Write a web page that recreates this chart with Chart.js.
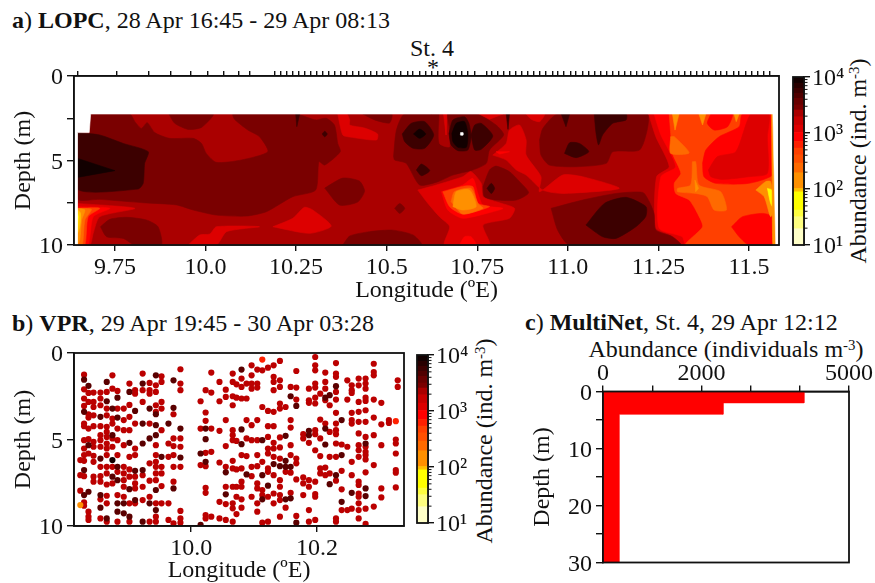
<!DOCTYPE html>
<html>
<head>
<meta charset="utf-8">
<title>LOPC, VPR and MultiNet abundance</title>
<script src="https://cdn.jsdelivr.net/npm/chart.js@4"></script>
<style>
  body { margin: 0; background: #fff; width: 875px; height: 583px; overflow: hidden; }
  canvas { position: absolute; left: 0; top: 0; }
  .txt { position: absolute; font: 24px "Liberation Serif", serif; color: #111; white-space: nowrap; line-height: 1; }
  .rot { transform: translate(-50%, -50%) rotate(-90deg); }
  .mid { transform: translate(-50%, -50%); }
  sup { font-size: .62em; line-height: 0; vertical-align: baseline; position: relative; top: -.45em; }
</style>
</head>
<body>
<div class="txt" style="left:12px;top:8px"><b>a</b>) <b>LOPC</b>, 28 Apr 16:45 - 29 Apr 08:13</div>
<div class="txt mid" style="left:432px;top:48px">St. 4</div>
<div class="txt mid" style="left:433px;top:67px">*</div>
<div class="txt rot" style="left:858px;top:161px">Abundance (ind. m<sup>-3</sup>)</div>
<div class="txt" style="left:12px;top:311px"><b>b</b>) <b>VPR</b>, 29 Apr 19:45 - 30 Apr 03:28</div>
<div class="txt rot" style="left:484px;top:441px">Abundance (ind. m<sup>-3</sup>)</div>
<div class="txt" style="left:525px;top:310px"><b>c</b>) <b>MultiNet</b>, St. 4, 29 Apr 12:12</div>
<div class="txt mid" style="left:726px;top:349px">Abundance (individuals m<sup>-3</sup>)</div>

<script>
// Colour bands of the abundance scale (ind. m-3)
const bandEdges = [10, 19.5, 32, 42, 89, 102, 195, 290, 407, 537, 708, 1023, 1380, 1950, 2570, 3160, 4170, 5130, 6310, 7760, 10000];
const bandColors = ["#ffffc8", "#ffff80", "#ffff40", "#ffff00", "#ffc000", "#ff9000", "#ff6a00", "#ff5000", "#ff4000", "#ff2000",
  "#ff0000", "#dd0000", "#c80000", "#aa0000", "#7a0000", "#680000", "#500000", "#3c0000", "#280000", "#120000"];
const cbarMajor = [10, 100, 1000, 10000];
const cbarLabels = ["10¹", "10²", "10³", "10⁴"];
const cbarMinor = [20, 30, 40, 50, 60, 70, 80, 90, 200, 300, 400, 500, 600, 700, 800, 900, 2000, 3000, 4000, 5000, 6000, 7000, 8000, 9000];

// Panel a, axes
const lonTicks = [9.75, 10, 10.25, 10.5, 10.75, 11, 11.25, 11.5];
const lonLabels = ["9.75", "10.0", "10.25", "10.5", "10.75", "11.0", "11.25", "11.5"];
const depthTicksA = [0, 2.5, 5, 7.5, 10];
const depthLabelsA = ["0", "", "5", "", "10"];
const sampleLon = [9.646, 9.756, 9.842, 9.905, 9.96, 10.007, 10.051, 10.092, 10.122,
  10.19, 10.207, 10.223, 10.24, 10.257, 10.273, 10.29, 10.307, 10.323, 10.34, 10.357, 10.373, 10.39, 10.407, 10.423,
  10.44, 10.457, 10.473, 10.49, 10.507, 10.523, 10.54, 10.557, 10.573, 10.59, 10.607, 10.623, 10.64, 10.657, 10.673,
  10.69, 10.707, 10.723, 10.742, 10.776, 10.79, 10.807, 10.823, 10.84, 10.857, 10.873, 10.89, 10.907, 10.923, 10.94,
  10.957, 10.973, 10.99, 11.007, 11.023, 11.04, 11.057, 11.073, 11.09, 11.107, 11.123, 11.14, 11.157, 11.173, 11.19,
  11.207, 11.223, 11.24, 11.257, 11.273, 11.29, 11.307, 11.323, 11.34, 11.357, 11.373, 11.39, 11.407, 11.423, 11.44,
  11.457, 11.473, 11.49, 11.507, 11.523, 11.54, 11.556];

// Panel a, filled contours: [abundance, [lon, depth, lon, depth, ...]], painted in this order
const contourShapes = [
  [2200, [9.646,3.35, 9.679,3.35, 9.683,2.25, 11.566,2.25, 11.574,10, 9.646,10]],
  [1200, [11.223,2.25, 11.566,2.25, 11.574,10, 11.312,10, 11.284,9.41, 11.243,9, 11.245,5.96, 11.28,5.37, 11.243,3.59]],
  [850, [11.238,2.25, 11.566,2.25, 11.574,10, 11.326,10, 11.316,9.51, 11.252,9, 11.257,5.96, 11.298,5.37, 11.257,3.49]],
  [450, [11.28,2.25, 11.566,2.25, 11.574,10, 11.326,10, 11.372,8.92, 11.358,8.13, 11.335,7.34, 11.298,6.95, 11.294,6.35, 11.312,5.76, 11.289,4.58, 11.284,3.4]],
  [850, [11.372,5.17, 11.381,4.38, 11.418,3.59, 11.473,3, 11.482,2.25, 11.566,2.25, 11.569,5.76, 11.5,6.35, 11.408,6.35, 11.376,5.96]],
  [850, [11.395,2.25, 11.454,2.25, 11.441,3, 11.404,3.2, 11.385,2.8]],
  [1200, [11.388,5.56, 11.413,4.77, 11.464,4.48, 11.505,2.25, 11.555,2.25, 11.551,3.59, 11.551,5.76, 11.5,5.96, 11.427,6.12, 11.395,5.96]],
  [850, [11.452,8.92, 11.482,8.33, 11.537,8.13, 11.565,8.33, 11.572,10, 11.5,10, 11.473,9.51]],
  [150, [11.289,2.25, 11.307,2.25, 11.296,3.2]],
  [150, [11.362,2.25, 11.381,2.25, 11.372,2.9]],
  [150, [11.459,2.25, 11.473,2.25, 11.465,2.7]],
  [240, [11.284,3.59, 11.294,3.59, 11.335,4.55, 11.284,4.58]],
  [240, [11.344,5.07, 11.353,5.07, 11.362,6.45, 11.422,6.85, 11.438,7.93, 11.404,7.93, 11.385,7.14, 11.353,6.95, 11.303,6.85, 11.303,6.65, 11.339,6.45]],
  [150, [11.351,6.16, 11.361,6.65, 11.353,6.85]],
  [150, [11.519,6.75, 11.546,6.25, 11.56,6.25, 11.569,7.83, 11.56,8.33, 11.542,7.14]],
  [60, [11.551,6.65, 11.563,6.75, 11.569,7.83, 11.56,7.54]],
  [150, [11.562,2.25, 11.566,2.25, 11.574,10, 11.566,10, 11.564,5.97]],
  // darker water, west and centre
  [2800, [9.646,3.35, 9.679,3.35, 9.683,2.25, 9.791,2.25, 9.805,2.7, 9.823,3.1, 9.839,2.76, 9.86,3.35, 9.901,3.69, 9.966,3.69, 9.989,3.99, 10.002,4.58, 10.03,5.11, 10.099,4.97, 10.172,4.48, 10.149,3.59, 10.117,3.2, 10.08,2.56, 10.076,2.25, 10.25,2.25, 10.296,2.56, 10.306,2.6, 10.333,2.5, 10.356,2.9, 10.365,3.99, 10.372,4.48, 10.329,5.27, 10.313,5.07, 10.304,6.75, 10.241,7.14, 10.168,8.03, 10.113,8.29, 10.03,8.23, 9.966,7.93, 9.92,7.63, 9.828,7.5, 9.708,7.3, 9.646,7.26]],
  [2800, [9.899,2.25, 9.915,2.8, 9.952,3.16, 9.989,3.04, 10.021,2.25]],
  [2800, [9.71,8.92, 9.736,8.48, 9.782,8.36, 9.837,8.52, 9.869,8.92, 9.878,10, 9.805,10, 9.773,9.61, 9.727,9.51]],
  [2800, [10.329,6.63, 10.379,6.04, 10.425,6.22, 10.439,6.81, 10.42,7.46, 10.37,7.64]],
  [5500, [9.646,3.35, 9.708,3.49, 9.773,3.99, 9.842,4.48, 9.832,5.17, 9.828,6.35, 9.814,6.69, 9.646,6.69]],
  [8500, [9.646,4.87, 9.75,5.6, 9.646,6]],
  [5500, [10.322,3.43, 10.329,3.27, 10.336,3.43, 10.329,3.6]],
  [5500, [10.249,2.25, 10.26,2.25, 10.252,3]],
  // hot corner, south-west
  [1200, [9.646,7.54, 9.805,7.83, 9.708,8.33, 9.69,9.31, 9.681,10, 9.646,10]],
  [850, [9.646,7.73, 9.736,7.83, 9.69,8.33, 9.676,10, 9.646,10]],
  [450, [9.646,7.83, 9.708,7.83, 9.676,8.33, 9.667,10, 9.646,10]],
  [240, [9.646,7.83, 9.685,7.89, 9.667,8.52, 9.66,10, 9.646,10]],
  [150, [9.646,7.83, 9.667,7.93, 9.658,8.52, 9.653,9.7, 9.646,10]],
  [95, [9.646,7.89, 9.655,8.13, 9.653,8.92, 9.646,9.31]],
  [60, [9.646,8.03, 9.649,8.33, 9.646,9.1]],
  [1200, [9.952,10, 9.984,9.41, 10.012,9.35, 10.03,8.92, 10.149,8.92, 10.058,9.21, 10.03,10]],
  [1200, [10.186,8.92, 10.241,8.42, 10.273,7.77, 10.296,7.93, 10.347,8.88, 10.287,9.31]],
  [1200, [10.365,2.25, 10.379,3.49, 10.398,3.61, 10.472,3.79, 10.475,3.43, 10.439,3.08, 10.398,2.9, 10.398,2.6, 10.39,2.25]],
  [2800, [10.434,2.25, 10.467,2.6, 10.508,2.78, 10.514,2.25]],
  // around St. 4
  [2800, [10.519,4.77, 10.527,3.2, 10.55,2.25, 10.747,2.25, 10.802,2.9, 10.823,3.49, 10.784,4.38, 10.775,5.17, 10.738,5.56, 10.683,5.86, 10.642,6.25, 10.591,6.45, 10.554,5.17, 10.522,4.97]],
  [2200, [10.646,2.25, 10.664,2.25, 10.674,4.18, 10.646,3.99]],
  [1200, [10.657,2.25, 10.666,2.25, 10.664,3.49]],
  [1200, [10.756,2.25, 10.821,2.25, 10.784,2.56]],
  [1200, [10.885,2.25, 10.936,2.25, 10.922,2.7, 10.899,2.56]],
  [5500, [10.543,3.43, 10.568,2.8, 10.605,2.7, 10.63,3.49, 10.605,4.28, 10.573,4.28, 10.55,3.89]],
  [8500, [10.574,3.43, 10.591,3.14, 10.608,3.43, 10.591,3.69]],
  [5500, [10.672,3.4, 10.683,2.6, 10.715,2.41, 10.727,2.8, 10.733,3.59, 10.724,4.38, 10.697,4.42, 10.678,4.08]],
  [8500, [10.68,3.4, 10.692,2.8, 10.715,2.7, 10.724,3.4, 10.72,4.22, 10.697,4.22, 10.683,3.89]],
  [20000, [10.704,3.35, 10.711,3.35, 10.711,3.5, 10.704,3.5]],
  [5500, [10.733,3.49, 10.743,2.9, 10.761,2.8, 10.793,3.55, 10.761,4.34, 10.743,4.38]],
  [5500, [10.582,5.56, 10.596,5.21, 10.619,5.6, 10.596,5.9]],
  [2800, [10.522,7.83, 10.536,7.54, 10.55,7.83, 10.536,8.13]],
  [2800, [10.379,10, 10.398,9.47, 10.453,9.21, 10.517,9.12, 10.573,9.41, 10.596,10]],
  [1200, [10.793,4.68, 10.83,3.99, 10.839,3.2, 10.867,2.9, 10.885,3.79, 10.885,4.68, 10.926,5.96, 10.922,6.85, 10.986,5.86, 11.041,5.96, 11.142,6.65, 10.986,6.95, 10.931,6.75, 10.885,5.86, 10.858,5.56, 10.83,4.97]],
  [5500, [10.83,2.25, 10.839,2.25, 10.835,3.16]],
  [850, [10.802,4.48, 10.839,4.48, 10.812,4.62]],
  [1200, [10.586,6.75, 10.637,6.45, 10.71,5.96, 10.733,5.66, 10.761,6.35, 10.766,7.14, 10.802,7.44, 10.853,7.83, 10.839,8.42, 10.766,8.82, 10.784,10, 10.66,10, 10.674,8.92, 10.646,8.33, 10.614,7.54]],
  [850, [10.651,6.85, 10.71,6.45, 10.738,6.06, 10.752,6.95, 10.766,7.64, 10.821,7.83, 10.793,8.03, 10.71,8.42, 10.669,7.93]],
  [850, [10.701,10, 10.715,9.51, 10.733,9.51, 10.747,10]],
  [450, [10.655,6.85, 10.715,6.51, 10.738,6.55, 10.752,7.54, 10.784,7.73, 10.71,8.17, 10.674,7.73]],
  [240, [10.678,7.44, 10.687,6.85, 10.733,6.65, 10.752,7.54, 10.766,7.83, 10.71,8.17]],
  [150, [10.683,7.73, 10.692,6.85, 10.729,6.75, 10.747,7.73, 10.71,7.93]],
  [2800, [10.766,6.55, 10.784,5.56, 10.802,5.33, 10.839,5.66, 10.867,6.25, 10.892,6.91, 10.858,7.34, 10.802,7.34, 10.77,7.14]],
  [5500, [10.777,6.65, 10.789,6.35, 10.798,6.65, 10.789,6.95]],
  // east of St. 4
  [2800, [10.922,3.79, 10.931,3.1, 10.972,2.25, 11.219,2.25, 11.219,3.2, 11.198,4.38, 11.124,4.48, 11.106,5.17, 11.023,5.37, 10.949,5.27, 10.926,4.68]],
  [5500, [10.982,2.25, 11.005,2.25, 10.995,3]],
  [5500, [11.073,2.25, 11.161,2.25, 11.161,2.6, 11.124,2.8, 11.096,3.49, 11.085,4.08, 11.078,3.4]],
  [5500, [10.991,4.58, 11.005,3.95, 11.032,3.99, 11.058,4.48, 11.023,4.83]],
  [2800, [10.954,7.83, 11.041,7.34, 11.133,6.95, 11.207,6.89, 11.225,7.44, 11.238,8.13, 11.243,9.12, 11.289,9.51, 11.312,10, 11.005,10, 10.972,9.12]],
  [5500, [11.05,8.82, 11.101,7.54, 11.161,7.18, 11.216,7.73, 11.215,8.33, 11.188,8.92, 11.133,9.61, 11.096,9.51]]
];
// The unsampled part of the section stays white, it goes over the smoothed shape edges
const unsampled = [9.637,0, 11.583,0, 11.583,10, 11.574,10, 11.566,2.25, 9.683,2.25, 9.679,3.35, 9.646,3.35, 9.646,10, 9.637,10];

// Panel b, VPR samples by profile: longitude, then depths at the usual and at the high abundance
const vprLon = [9.824, 9.83, 9.837, 9.845, 9.856, 9.866, 9.875, 9.883, 9.893, 9.902, 9.911, 9.923, 9.934, 9.944, 9.953, 9.964, 9.972, 9.983,
  10.015, 10.023, 10.032, 10.045, 10.055, 10.066, 10.072, 10.08, 10.088, 10.096, 10.105, 10.113, 10.122, 10.131, 10.141, 10.15, 10.158, 10.167,
  10.178, 10.187, 10.197, 10.205, 10.213, 10.22, 10.23, 10.239, 10.248, 10.255, 10.266, 10.277, 10.29, 10.302, 10.314, 10.325, 10.328];
const vprDepth = [
  [6.19, 7.06, 7.96],
  [1.25, 2.1, 2.63, 3.06, 4.08, 4.23, 5.04, 5.52, 5.9, 6.23, 7.12, 8.63, 8.83],
  [2.31, 2.83, 3.54, 3.73, 4.37, 4.98, 5.81, 9.17, 9.46, 9.65],
  [2.29, 2.83, 3.12, 3.6, 4.23, 5.13, 5.42, 5.94, 6.29, 7.15, 7.44],
  [2.29, 2.63, 3.02, 4.23, 4.75, 5.04, 5.42, 6.58, 7.12, 7.44, 8.46, 9.56],
  [2.25, 3.21, 3.6, 4.27, 4.56, 4.85, 5.23, 5.52, 5.9, 6.58, 6.96, 7.6, 8.25, 8.69, 9.75],
  [1.29, 2.06, 3.79, 4.08, 4.94, 5.42, 6.58, 7.54],
  [2.19, 3.21, 4.37, 5.04, 5.9, 6.87, 8.21, 9.75],
  [3.21, 3.88, 4.46, 5.33, 6.58, 6.96, 7.35, 7.73, 8.31],
  [1.77, 3, 3.69, 4.46, 6, 6.73, 7.15, 8.69, 9.75],
  [2.15, 2.35, 4.08, 5.52, 5.9, 7.15, 7.54, 7.83, 8.69],
  [1.19, 2.15, 2.83, 7.06, 7.73, 8.5],
  [1.73, 2.15, 2.35, 4.08, 6.38, 7.38, 8.31, 9.75],
  [1.87, 2.25, 3.02, 3.4, 5.33, 5.9, 6.29, 6.58, 6.96, 7.35, 8.69, 9.46, 9.75],
  [1.35, 1.67, 2.83, 3.21, 4.46, 6.58, 6.96, 7.69, 8.69],
  [5.23, 6, 8.69, 9.65],
  [3.54, 4.94, 5.38, 5.9, 6.58, 7.44, 9.85],
  [0.94, 1.77, 2.15, 4.94, 5.42, 6.58, 9.13, 9.56, 9.81],
  [2.79, 4.37, 6.48],
  [2.15, 3.44, 3.92, 5.77, 6.54, 7.79, 8.08, 9.37, 9.56],
  [1.13, 2.29, 4.37, 5.71, 9.46],
  [1.67, 2.79, 4.5, 6.33, 8.6, 9.56],
  [2.12, 2.54, 3.88, 5.38, 6.58, 7.73, 8.73, 9.65],
  [1.19, 1.67, 2.5, 3.02, 4.46, 4.75, 5.04, 6.23, 6.67, 7.73, 8.69, 8.98, 9.75],
  [1.81, 2.58, 5.08, 6.73, 7.73, 8.31, 9.31],
  [1.48, 1.96, 2.63, 5.9, 6.67, 7.44, 7.73, 8.46, 8.94],
  [1.77, 2.63, 3.88, 4.94, 5.96],
  [0.71, 1.29, 1.77, 2.06, 4.17, 5.04, 6.58, 7.12, 8.31],
  [0.96, 1.77, 2, 3.88, 5.04, 5.9, 6.54, 7.54, 7.83, 8.69, 9.17],
  [1, 3.12, 6.29, 7.92, 8.21, 9.81],
  [0.85, 3.35, 4.23, 4.85, 5.52, 5.81, 6.67, 6.87, 8.31, 9.75],
  [0.71, 1.38, 1.67, 2.15, 3.4, 4.23, 5.19, 5.52, 6, 7.06, 8.12, 8.69],
  [0.46, 1.58, 1.96, 2.92, 3.21, 4.88, 5.46, 6.1, 7.35, 7.73, 8.21, 8.5, 9.46],
  [3.12, 6.87, 8.94],
  [1.96, 3.88, 4.31, 5.33, 5.9, 6.92, 8.08],
  [1.04, 2, 2.69, 6.1, 6.38, 7.31, 9.42],
  [4.69, 4.94, 7.19, 7.54, 8.21],
  [2.06, 2.73, 2.88, 5.19, 7.35, 7.73, 9.08, 9.75],
  [0.23, 0.71, 1, 1.77, 2, 2.58, 2.92, 4.46, 4.69, 5.62, 7.44, 8.15, 8.31, 9.65],
  [2.35, 3.85, 4.94, 5.96, 6.67, 6.96],
  [1.13, 1.67, 2.06, 2.73, 4.08, 6.62, 7.06],
  [3.02, 4.56, 6, 6.96],
  [0.58, 1.19, 1.38, 2.25, 2.69, 3.46, 4.08, 4.46, 4.69, 5.23, 6, 7.38, 9.56, 9.75],
  [5.29, 6.81, 7.88, 9.08],
  [1.58, 2.69, 5.42, 9.08],
  [1.87, 2.15, 2.31, 3.46, 3.88, 4.08, 6.29, 7.06, 9],
  [1.48, 1.87, 2.83, 3.4, 3.98, 4.65, 5.33, 5.62, 6, 7.44, 7.63, 8.12, 8.31, 8.69, 9.08, 9.56],
  [1.48, 1.77, 2.06, 2.58, 2.77, 3.31, 3.98, 4.85, 5.42, 5.71, 5.9, 6.15, 6.9, 9, 9.88],
  [0.62, 1.1, 1.29, 2.69, 3.73, 4.75, 6.48, 8.88],
  [2.88, 4.12, 5.33, 7.83, 8.35],
  [3.88, 4.04],
  [5, 5.23, 5.81, 6.77, 6.92, 7.77],
  [1.58, 1.96]
];
const vprDepthHigh = [
  [],
  [1.54, 3.4, 6.77, 8.21],
  [1.9, 5.33, 8.02],
  [],
  [3.69, 6.1, 8.21, 8.94],
  [1.67, 2.79, 9.56],
  [3.21, 4.75, 7.15],
  [2.58, 3.73, 6.58, 7.35, 8.69, 9.17],
  [8.69, 9.27],
  [2.25, 5.19, 7.87, 9.46],
  [3.35, 6.81, 8.5],
  [1.77, 4.08, 5.23, 6.77, 9.75],
  [3.21, 4.94, 8.69],
  [1.29, 3.54, 4.17, 4.75, 7.92, 9.08],
  [6],
  [4.08],
  [1.58, 3.17, 7.83],
  [4.37, 6.04],
  [5.81, 9.94],
  [4.37, 4.98, 6.29],
  [],
  [],
  [6.9, 8.17],
  [],
  [],
  [0.96, 4.42, 5.27],
  [7.02],
  [],
  [],
  [5.04, 7.06, 8.46],
  [7.67],
  [6.42],
  [6.54],
  [4.79, 6.23, 6.58, 8.46],
  [2.5, 6.58, 8.4],
  [3.06, 9.81],
  [],
  [4.5, 4.75],
  [],
  [],
  [2.58, 4.37, 5.29],
  [2.44, 7.58],
  [1.92, 7.06],
  [3.88, 5.9, 8.6],
  [],
  [8.08],
  [],
  [5.23, 7.83, 8.27],
  [],
  [],
  [],
  [],
  []
];
const vprOtherLon = [9.875, 9.824, 10.113, 10.325];
const vprOtherDepth = [6.19, 8.79, 0.38, 3.94];
const vprOtherAbund = [8500, 150, 600, 600];
const vprLonTicks = [10, 10.2];
const vprLonLabels = ["10.0", "10.2"];
const depthTicksB = [0, 5, 10];
const depthLabelsB = ["0", "5", "10"];

// Panel c, MultiNet net hauls
const netTop = [0, 2, 4];
const netBottom = [2, 4, 30];
const netAbund = [4085, 2440, 325];
const netAbundTicks = [0, 1000, 2000, 3000, 4000, 5000];
const netAbundLabels = ["0", "", "2000", "", "", "5000"];
const netDepthTicks = [0, 5, 10, 15, 20, 25, 30];
const netDepthLabels = ["0", "", "10", "", "20", "", "30"];

const INK = "#111";
const FONT = { family: '"Liberation Serif", serif', size: 24, lineHeight: 1 };

function colorFor(v) {
  for (let i = 0; i < bandColors.length; i++) {
    if (v < bandEdges[i + 1]) return bandColors[i];
  }
  return "#ffffff";
}

// Fixes the room an axis takes, so the plot box lands where the reference has it
function fitTo(size) {
  return s => {
    if (s.isHorizontal()) s.height = size; else s.width = size;
    s.paddingLeft = s.paddingRight = s.paddingTop = s.paddingBottom = 0;
  };
}

function axis(o) {
  return {
    type: o.type || "linear",
    position: o.position,
    min: o.min,
    max: o.max,
    reverse: !!o.reverse,
    afterFit: fitTo(o.size),
    afterBuildTicks: s => { s.ticks = o.ticks.map(v => ({ value: v, major: true })); },
    border: { color: INK, width: 1.6 },
    grid: { drawOnChartArea: false, color: INK, lineWidth: 1.4, tickLength: o.tick || 6 },
    ticks: {
      display: !!o.labels,
      autoSkip: false,
      maxRotation: 0,
      minRotation: 0,
      padding: o.pad === undefined ? 4 : o.pad,
      labelOffset: o.shift || 0,
      color: INK,
      font: FONT,
      callback: v => (o.labels ? o.labels[o.ticks.indexOf(v)] : "")
    },
    title: o.title ? { display: true, text: o.title, color: INK, font: FONT, padding: 0 } : { display: false }
  };
}

const framePlugin = {
  id: "frame",
  afterDraw(chart) {
    const a = chart.chartArea, ctx = chart.ctx;
    ctx.save();
    ctx.strokeStyle = INK;
    ctx.lineWidth = 1.8;
    ctx.strokeRect(a.left, a.top, a.right - a.left, a.bottom - a.top);
    ctx.restore();
  }
};

const minorTicks = {
  id: "minorTicks",
  afterDraw(chart) {
    const s = chart.scales.y, ctx = chart.ctx;
    ctx.save();
    ctx.strokeStyle = INK;
    ctx.lineWidth = 1;
    ctx.beginPath();
    cbarMinor.forEach(v => {
      const y = s.getPixelForValue(v);
      ctx.moveTo(chart.chartArea.right, y);
      ctx.lineTo(chart.chartArea.right + 3.5, y);
    });
    ctx.stroke();
    ctx.restore();
  }
};

function makeChart(box, type, data, scales, plugins) {
  const c = document.createElement("canvas");
  c.width = 875;
  c.height = 583;
  document.body.appendChild(c);
  return new Chart(c.getContext("2d"), {
    type: type,
    data: data,
    plugins: plugins,
    options: {
      responsive: false,
      animation: false,
      events: [],
      layout: { padding: box },
      plugins: { legend: { display: false }, tooltip: { enabled: false } },
      scales: scales
    }
  });
}

function polygon(points, color, order, tension) {
  return {
    data: points,
    showLine: true,
    fill: "shape",
    backgroundColor: color,
    borderColor: color,
    borderWidth: 0.6,
    pointRadius: 0,
    tension: tension,
    order: order
  };
}

function toPoints(flat) {
  const pts = [];
  for (let k = 0; k < flat.length; k += 2) pts.push({ x: flat[k], y: flat[k + 1] });
  pts.push(pts[0]);
  return pts;
}

// Panel a
const contourSets = contourShapes.map((s, i) =>
  polygon(toPoints(s[1]), colorFor(s[0]), contourShapes.length - i + 1, (i > 0 && s[1].length > 6) ? 0.22 : 0));
contourSets.push(polygon(toPoints(unsampled), "#ffffff", 0, 0));

makeChart({ left: 12, right: 875 - 779, top: 76 - 6, bottom: 583 - 245 - 58 }, "scatter", { datasets: contourSets }, {
  x: axis({ position: "bottom", min: 9.637, max: 11.583, ticks: lonTicks, labels: lonLabels, size: 58, title: "Longitude (ºE)", tick: 6, pad: 5 }),
  xTop: axis({ position: "top", min: 9.637, max: 11.583, ticks: sampleLon, size: 6, tick: 5 }),
  y: axis({ position: "left", min: 0, max: 10, reverse: true, ticks: depthTicksA, labels: depthLabelsA, size: 62, title: "Depth (m)", tick: 7, shift: 2 })
}, [framePlugin]);

// Colour bars, one for panel a and one for panel b
function colorBar(box) {
  const sets = bandColors.map((col, i) => ({
    data: [[bandEdges[i], bandEdges[i + 1]]],
    backgroundColor: col,
    borderWidth: 0,
    grouped: false,
    barPercentage: 1,
    categoryPercentage: 1
  }));
  return makeChart(box, "bar", { labels: ["abundance"], datasets: sets }, {
    x: { display: false },
    y: axis({ type: "logarithmic", position: "right", min: 10, max: 10000, ticks: cbarMajor, labels: cbarLabels, size: 70, tick: 6, pad: 2, shift: 2 })
  }, [framePlugin, minorTicks]);
}
colorBar({ left: 793, right: 875 - 804 - 70, top: 77, bottom: 583 - 245 });
colorBar({ left: 417, right: 875 - 428 - 70, top: 355, bottom: 583 - 523 });

// Panel b
const vprMid = [], vprHigh = [];
vprLon.forEach((lon, i) => {
  vprDepth[i].forEach(d => vprMid.push({ x: lon, y: d }));
  vprDepthHigh[i].forEach(d => vprHigh.push({ x: lon, y: d }));
});
const vprOther = vprOtherLon.map((lon, i) => ({ x: lon, y: vprOtherDepth[i] }));

function dots(points, colors) {
  return { data: points, backgroundColor: colors, borderWidth: 0, pointRadius: 3.1 };
}

makeChart({ left: 12, right: 875 - 404, top: 353, bottom: 583 - 526 - 57 }, "scatter", {
  datasets: [
    dots(vprOther, vprOtherAbund.map(colorFor)),
    dots(vprHigh, "#5a0000"),
    dots(vprMid, "#bb0000")
  ]
}, {
  x: axis({ position: "bottom", min: 9.814, max: 10.338, ticks: vprLonTicks, labels: vprLonLabels, size: 57, title: "Longitude (ºE)", tick: 6, pad: 5 }),
  y: axis({ position: "left", min: 0, max: 10, reverse: true, ticks: depthTicksB, labels: depthLabelsB, size: 62, title: "Depth (m)", tick: 7, shift: 2 })
}, [framePlugin]);

// Panel c: step outline of the hauls, closed along the zero line
const netOutline = [{ x: 0, y: netTop[0] }];
netAbund.forEach((v, i) => {
  netOutline.push({ x: v, y: netTop[i] }, { x: v, y: netBottom[i] });
});
netOutline.push({ x: 0, y: netBottom[netBottom.length - 1] }, netOutline[0]);

makeChart({ left: 603 - 72, right: 875 - 849, top: 391.5 - 30, bottom: 583 - 562.5 }, "scatter", {
  datasets: [polygon(netOutline, "#ff0000", 0, 0)]
}, {
  x: axis({ position: "top", min: 0, max: 5000, ticks: netAbundTicks, labels: netAbundLabels, size: 30, tick: 6, pad: 0 }),
  y: axis({ position: "left", min: 0, max: 30, reverse: true, ticks: netDepthTicks, labels: netDepthLabels, size: 72, title: "Depth (m)", tick: 7, shift: 2 })
}, [framePlugin]);
</script>
</body>
</html>
